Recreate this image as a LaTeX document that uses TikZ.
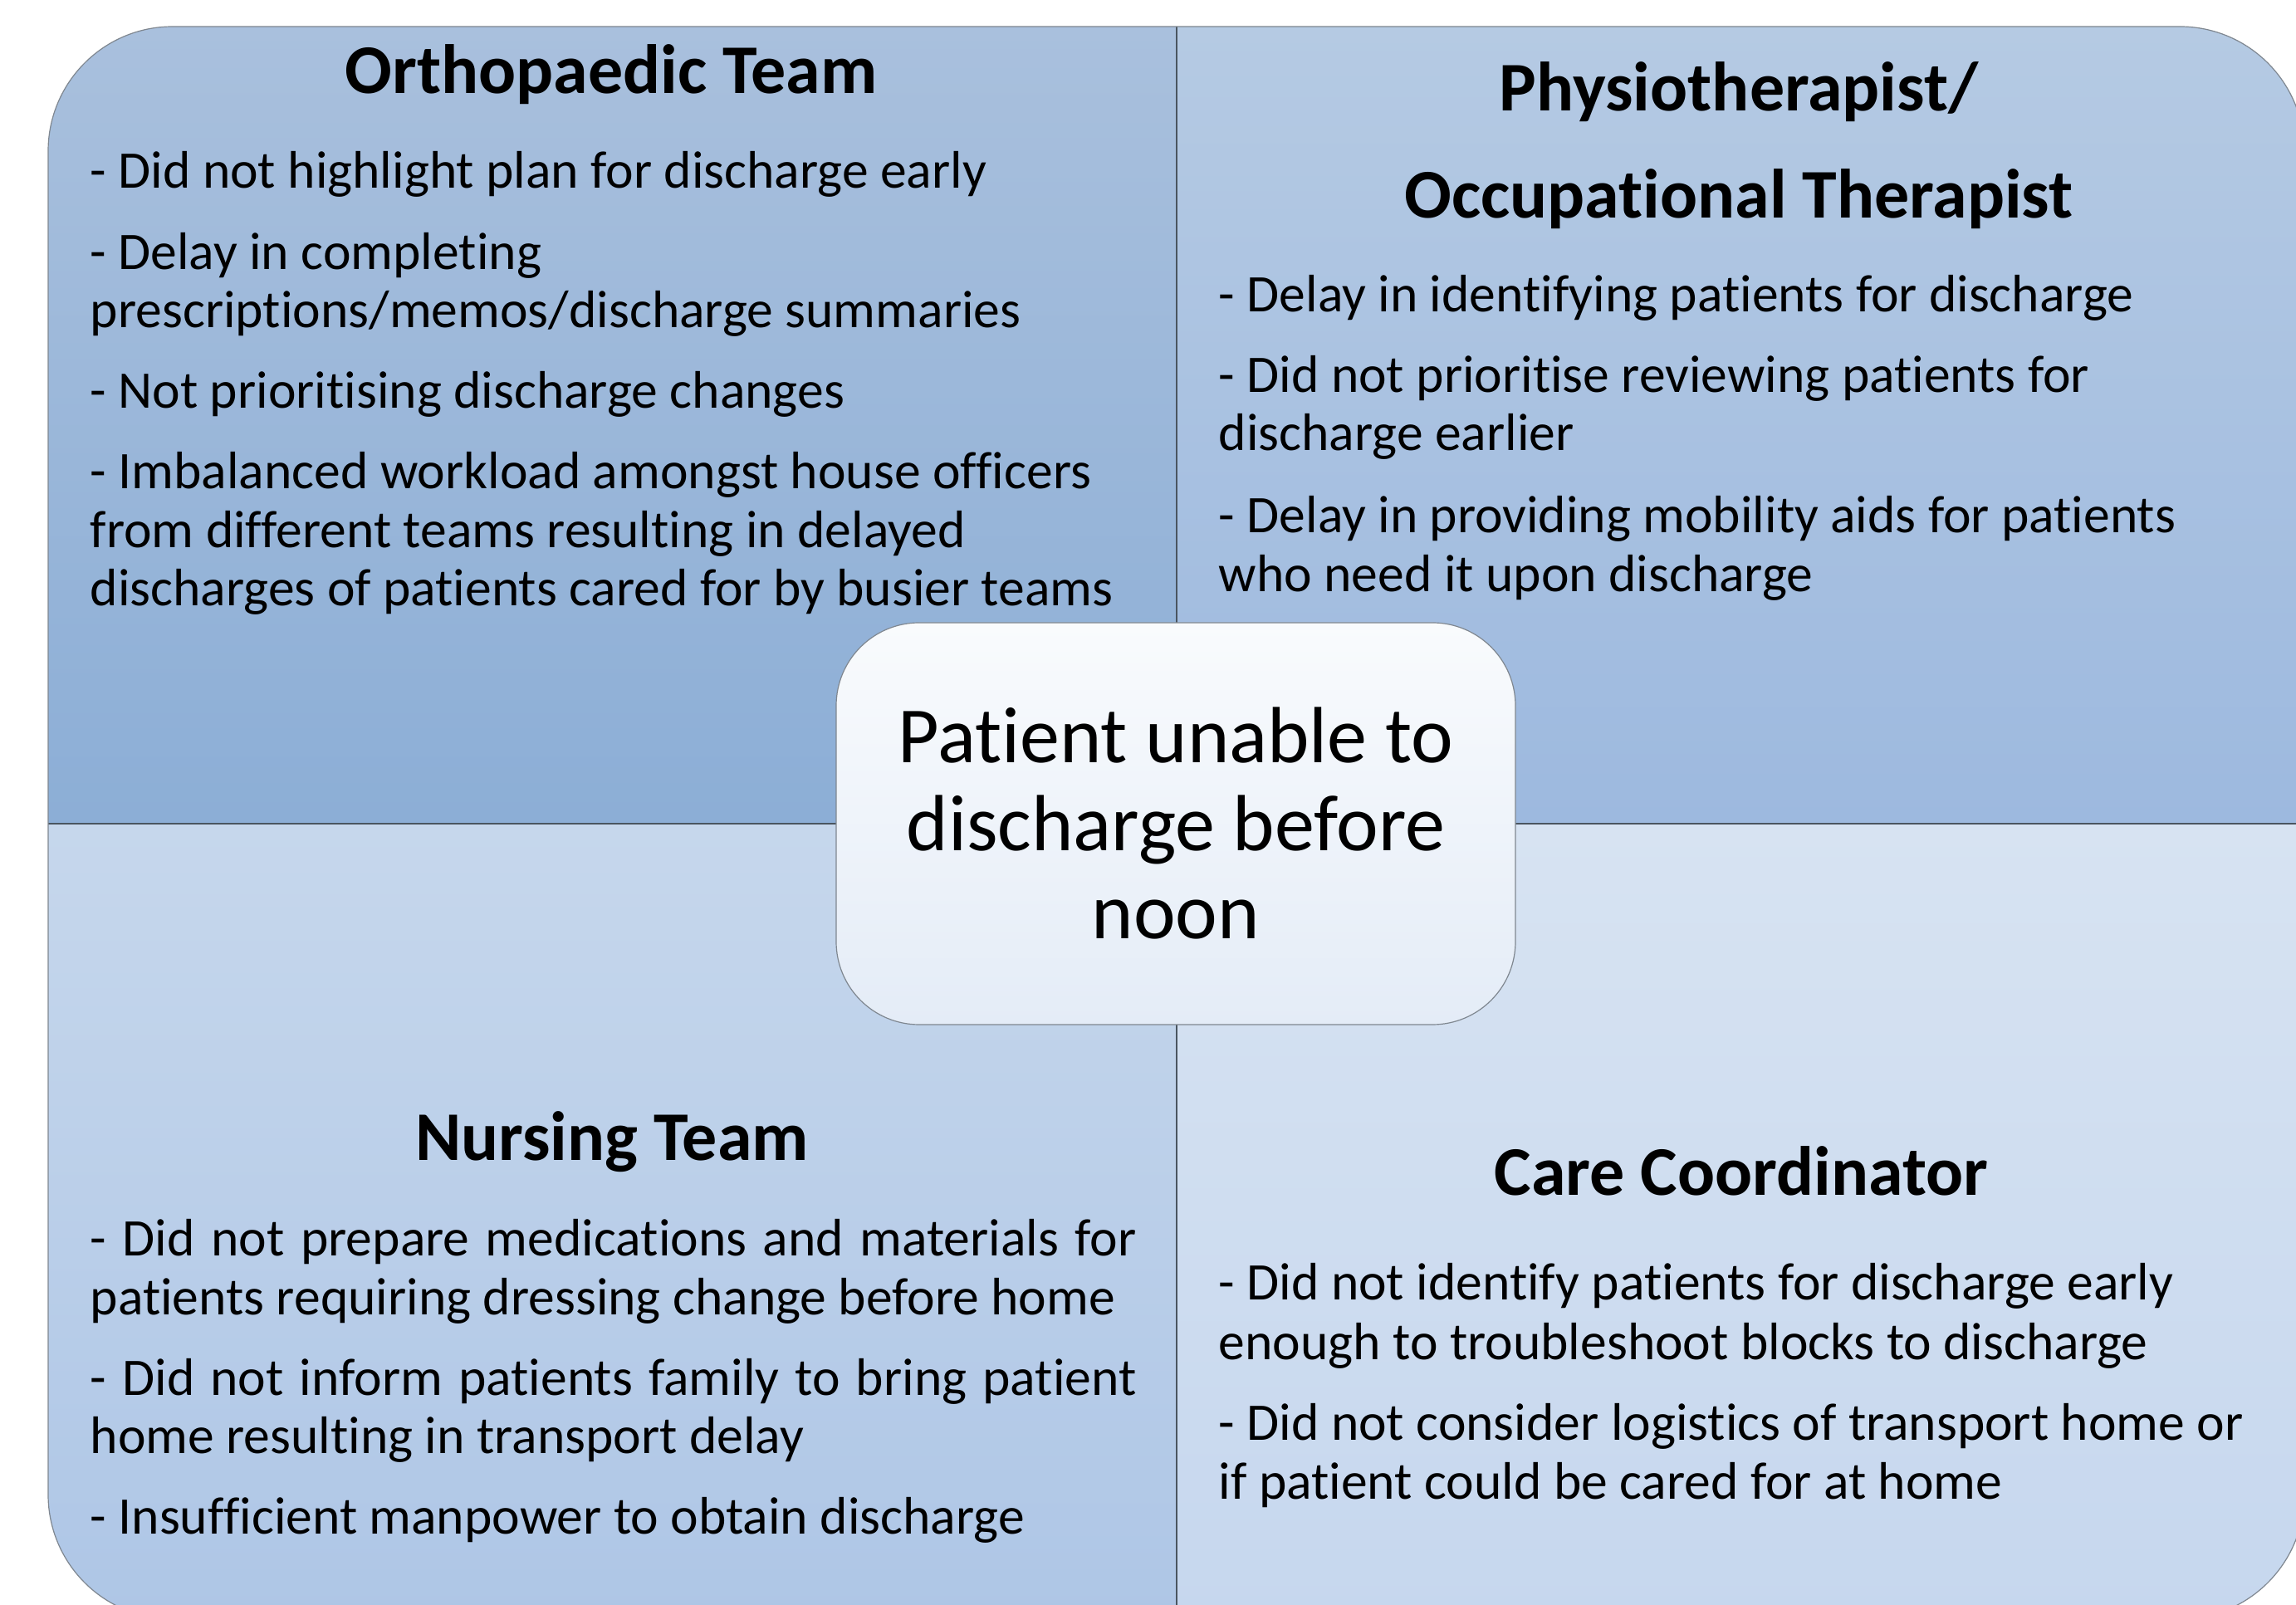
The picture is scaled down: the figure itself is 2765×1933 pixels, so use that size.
\documentclass[tikz,border=0pt]{standalone}
\usepackage{fontspec}
\setmainfont[Ligatures=NoCommon]{Carlito}
\usepackage{tikz}

\definecolor{orthoTop}{HTML}{A9C0DD}
\definecolor{orthoBot}{HTML}{8CAED6}
\definecolor{physioTop}{HTML}{B5CAE3}
\definecolor{physioBot}{HTML}{9DB9DF}
\definecolor{nurseTop}{HTML}{C6D7EC}
\definecolor{nurseBot}{HTML}{AEC6E6}
\definecolor{careTop}{HTML}{D7E3F2}
\definecolor{careBot}{HTML}{C6D7EE}
\definecolor{coreTop}{HTML}{F9FBFD}
\definecolor{coreBot}{HTML}{E4ECF7}
\definecolor{divGray}{HTML}{4A5560}
\definecolor{edgeGray}{HTML}{7F8790}

\newcommand{\fullline}[1]{\makebox[315pt][s]{#1}}

\begin{document}
\begin{tikzpicture}[x=0.25pt,y=0.25pt,yscale=-1,xscale=1,
  body/.style={anchor=base west,inner sep=0pt,font=\fontsize{15.9}{17.6}\selectfont},
  head/.style={anchor=base,inner sep=0pt,font=\fontsize{21}{26}\selectfont\bfseries},
  core/.style={draw=edgeGray,line width=0.3pt,rounded corners=25pt,top color=coreTop,bottom color=coreBot,
    minimum width=204.5pt,minimum height=121pt,align=center,inner sep=0pt,
    font=\fontsize{24}{26.5}\selectfont}]
\useasboundingbox (0,0) rectangle (2765,1933);

\begin{scope}
\clip (0,0) rectangle (2765,1933);
%Shape: quadrants inside the rounded frame
\begin{scope}
\clip[rounded corners=37.5pt] (58,32) rectangle (2775,1950);
\shade[top color=orthoTop,bottom color=orthoBot] (58,32) rectangle (1417,992);
\shade[top color=physioTop,bottom color=physioBot] (1417,32) rectangle (2775,992);
\shade[top color=nurseTop,bottom color=nurseBot] (58,992) rectangle (1417,1950);
\shade[top color=careTop,bottom color=careBot] (1417,992) rectangle (2775,1950);
\end{scope}
%Straight Lines: dividers
\draw[divGray,line width=0.5pt] (1417,32) -- (1417,1950);
\draw[divGray,line width=0.5pt] (58,992) -- (2775,992);
%Shape: frame
\draw[edgeGray,line width=0.3pt,rounded corners=37.5pt] (58,32) rectangle (2775,1950);
\end{scope}

% Text Node: headings
\node[head] (ortho) at (736,113) {Orthopaedic Team};
\node[head] (physio) at (2094,134) {Physiotherapist/};
\node[head] (occu) at (2094,263) {Occupational Therapist};
\node[head] (nurse) at (737,1398) {Nursing Team};
\node[head] (care) at (2097,1440) {Care Coordinator};

% Text Node: orthopaedic team
\foreach \yy/\txt [count=\i] in {227/{- Did not highlight plan for discharge early},
  325/{- Delay in completing}, 395/{prescriptions/memos/discharge summaries},
  492/{- Not prioritising discharge changes},
  589/{- Imbalanced workload amongst house officers}, 660/{from different teams resulting in delayed},
  730/{discharges of patients cared for by busier teams}}
  \node[body] (ortho-\i) at (108,\yy) {\txt};

% Text Node: physiotherapist / occupational therapist
\foreach \yy/\txt [count=\i] in {376/{- Delay in identifying patients for discharge},
  473/{- Did not prioritise reviewing patients for}, 543/{discharge earlier},
  642/{- Delay in providing mobility aids for patients}, 713/{who need it upon discharge}}
  \node[body] (physio-\i) at (1467,\yy) {\txt};

% Text Node: nursing team
\foreach \yy/\txt [count=\i] in {1513/{\fullline{- Did not prepare medications and materials for}},
  1584/{patients requiring dressing change before home},
  1681/{\fullline{- Did not inform patients family to bring patient}}, 1751/{home resulting in transport delay},
  1848/{- Insufficient manpower to obtain discharge}}
  \node[body] (nurse-\i) at (108,\yy) {\txt};

% Text Node: care coordinator
\foreach \yy/\txt [count=\i] in {1566/{- Did not identify patients for discharge early},
  1638/{enough to troubleshoot blocks to discharge},
  1735/{- Did not consider logistics of transport home or}, 1806/{if patient could be cared for at home}}
  \node[body] (care-\i) at (1467,\yy) {\txt};

% Text Node: centre problem
\node[core] (noon) at (1416,992) {Patient unable to\\discharge before\\noon};

\end{tikzpicture}
\end{document}
